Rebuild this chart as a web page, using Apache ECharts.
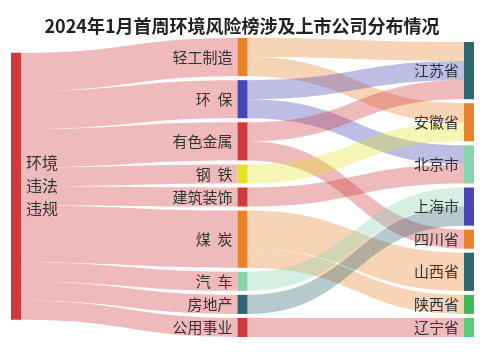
<!DOCTYPE html>
<html>
<head>
<meta charset="utf-8">
<script src="https://cdn.jsdelivr.net/npm/echarts@6/dist/echarts.min.js"></script>
<style>html,body{margin:0;padding:0;background:#fff}#c{width:484px;height:357px}</style>
</head>
<body>
<div id="c"></div>
<script>
const titleText = '2024年1月首周环境风险榜涉及上市公司分布情况';
const rootName = '环境违法违规';
const rootLabel = '环境\n违法\n违规';
const industries = ['轻工制造', '环保', '有色金属', '钢铁', '建筑装饰', '煤炭', '汽车', '房地产', '公用事业'];
const industryLabels = ['轻工制造', '环  保', '有色金属', '钢  铁', '建筑装饰', '煤  炭', '汽  车', '房地产', '公用事业'];
const provinces = ['江苏省', '安徽省', '北京市', '上海市', '四川省', '山西省', '陕西省', '辽宁省'];
const flowFrom = ['轻工制造', '轻工制造', '环保', '环保', '有色金属', '有色金属', '钢铁', '建筑装饰', '煤炭', '煤炭', '汽车', '房地产', '公用事业'];
const flowTo = ['江苏省', '安徽省', '江苏省', '北京市', '江苏省', '四川省', '安徽省', '北京市', '山西省', '陕西省', '上海市', '上海市', '辽宁省'];
const flowValue = [1, 1, 1, 1, 1, 1, 1, 1, 2, 1, 1, 1, 1];

const RED = '#cf3a3c', ORANGE = '#e8832b', BLUE = '#4646b4', YELLOW = '#e2e22a',
      LGREEN = '#88d5ad', TEAL = '#2f6570', GREEN = '#3fbb5c', GREEN2 = '#5dcb7c';
const colorOf = {
  '环境违法违规': RED,
  '轻工制造': ORANGE, '环保': BLUE, '有色金属': RED, '钢铁': YELLOW, '建筑装饰': RED,
  '煤炭': ORANGE, '汽车': LGREEN, '房地产': TEAL, '公用事业': RED,
  '江苏省': TEAL, '安徽省': ORANGE, '北京市': LGREEN, '上海市': BLUE, '四川省': ORANGE,
  '山西省': TEAL, '陕西省': GREEN, '辽宁省': GREEN2
};

const labelOf = {};
labelOf[rootName] = rootLabel;
industries.forEach((n, i) => labelOf[n] = industryLabels[i]);
provinces.forEach(n => labelOf[n] = n);

const nodes = [];
nodes.push({
  name: rootName, depth: 0,
  itemStyle: { color: colorOf[rootName] },
  label: { position: 'right', distance: 5, fontSize: 16, lineHeight: 23, align: 'left' }
});
industries.forEach(n => nodes.push({ name: n, depth: 1, itemStyle: { color: colorOf[n] } }));
provinces.forEach(n => nodes.push({ name: n, depth: 2, itemStyle: { color: colorOf[n] } }));

const links = [];
industries.forEach(n => {
  let v = 0;
  flowFrom.forEach((f, i) => { if (f === n) v += flowValue[i]; });
  links.push({ source: rootName, target: n, value: v });
});
flowFrom.forEach((f, i) => links.push({ source: f, target: flowTo[i], value: flowValue[i] }));

const chart = echarts.init(document.getElementById('c'), null, { renderer: 'canvas' });
chart.setOption({
  animation: false,
  backgroundColor: '#ffffff',
  title: {
    text: titleText, left: 'center', top: 12,
    textStyle: { fontSize: 18, fontWeight: 'bold', color: '#222', fontFamily: 'Noto Sans CJK SC' }
  },
  series: [{
    type: 'sankey',
    left: 11, right: 10, top: 38, bottom: 20,
    nodeWidth: 10, nodeGap: 4,
    nodeAlign: 'justify',
    draggable: false,
    data: nodes,
    links: links,
    itemStyle: { borderWidth: 0 },
    lineStyle: { color: 'source', opacity: 0.35, curveness: 0.5 },
    label: {
      position: 'left', distance: 5, fontSize: 15, color: '#333',
      fontFamily: 'Noto Sans CJK SC',
      formatter: p => labelOf[p.name]
    },
    emphasis: { disabled: true }
  }]
});
</script>
</body>
</html>
